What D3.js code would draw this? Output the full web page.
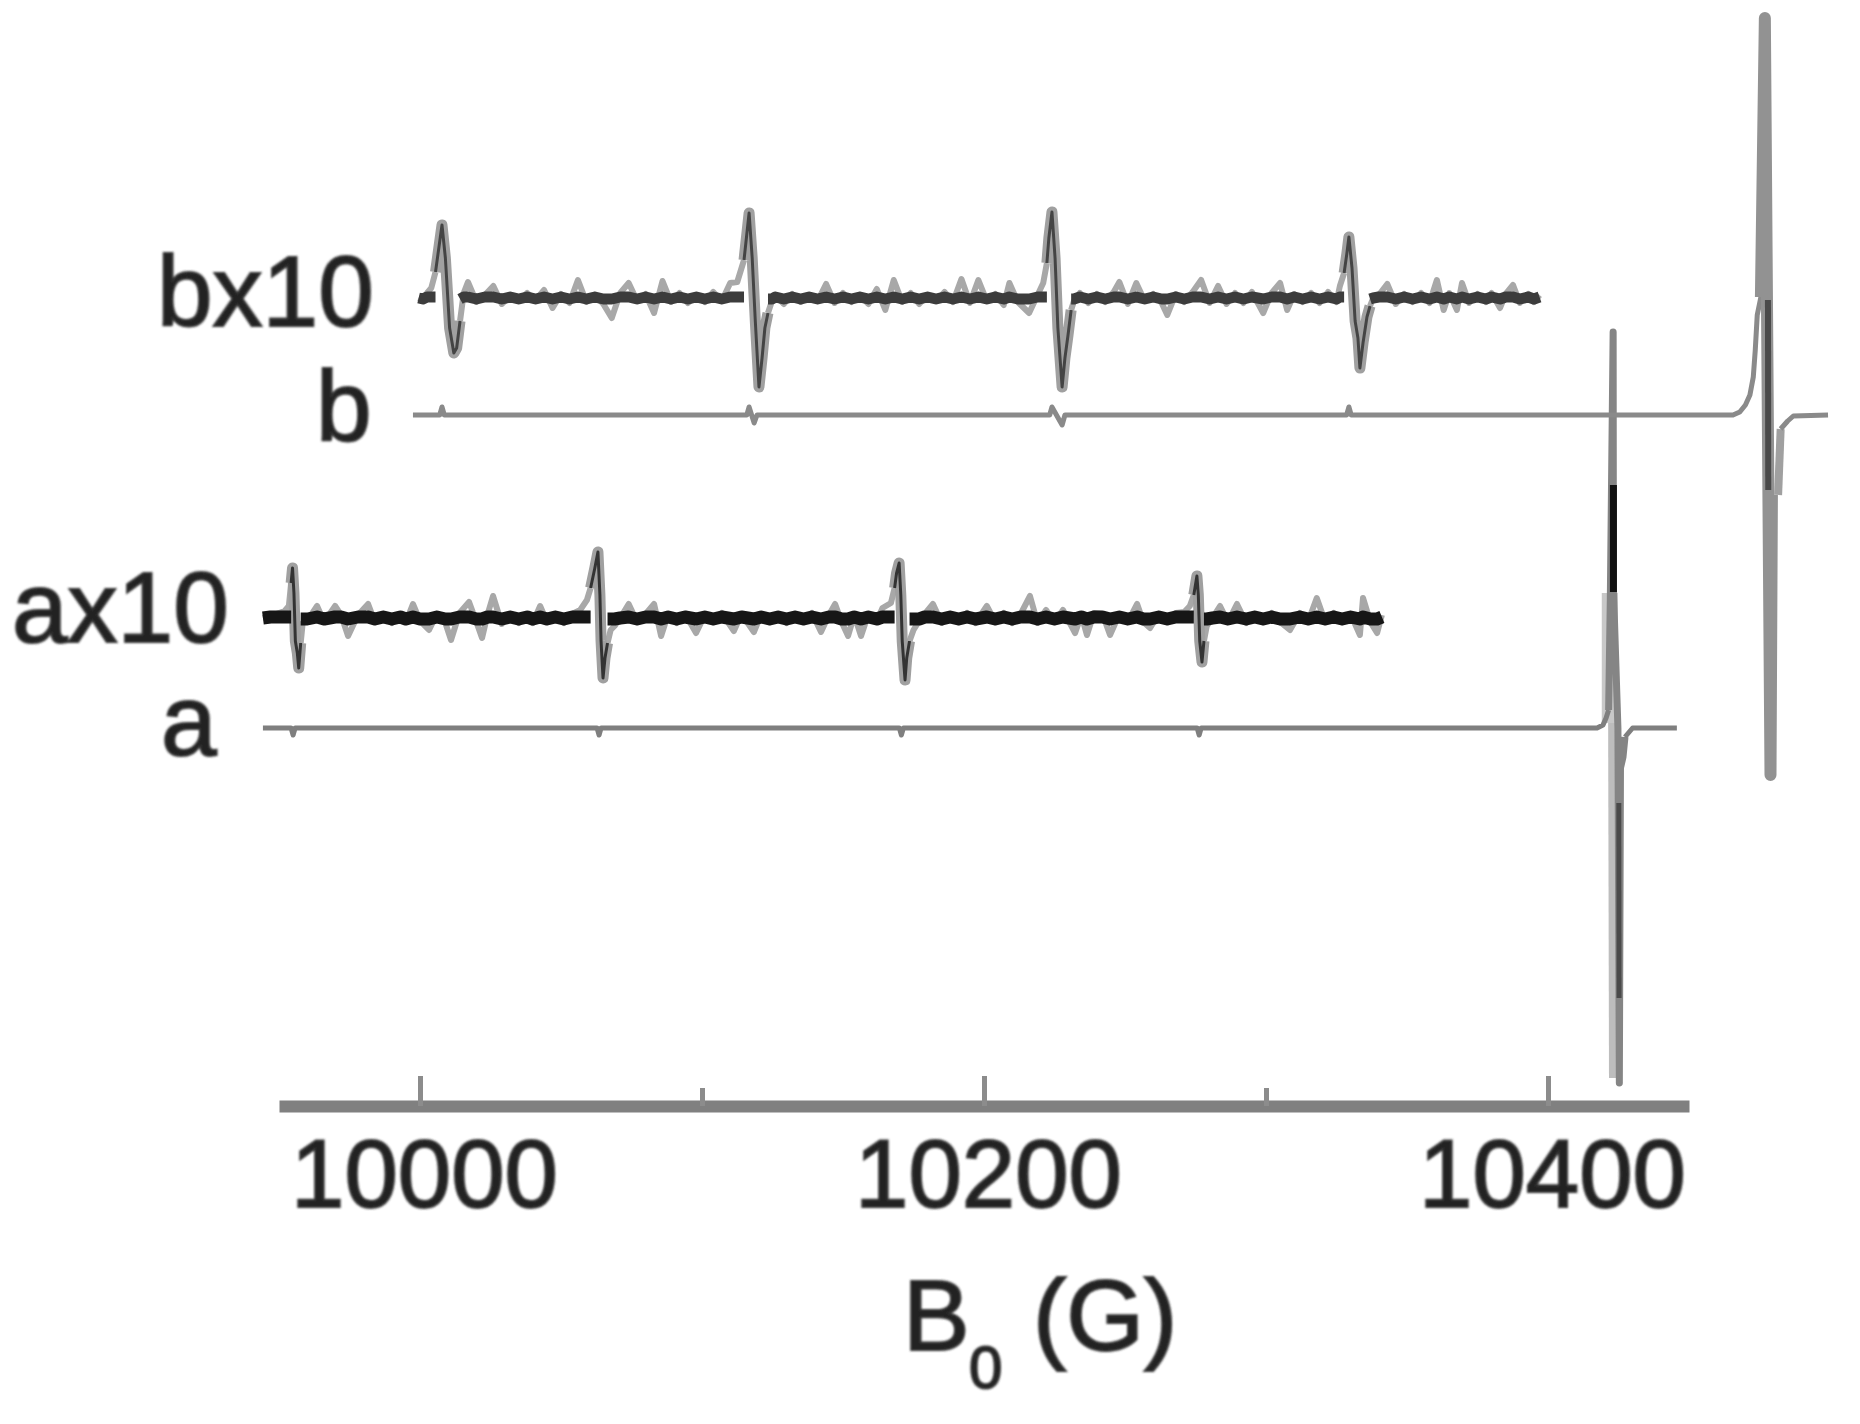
<!DOCTYPE html>
<html>
<head>
<meta charset="utf-8">
<title>B0 sweep</title>
<script src="https://cdnjs.cloudflare.com/ajax/libs/d3/7.8.5/d3.min.js"></script>
<style>
  body { margin: 0; background: #fff; }
  text { font-family: "Liberation Sans", Arial, sans-serif; }
</style>
</head>
<body>
<div class="svg-container"></div>
<script>
//values below: [field in G, intensity relative to the trace baseline]
var majorTicks = [10000, 10200, 10400];
var minorTicks = [10100, 10300];
var axisTitle = ["B", "0", "(G)"];
var traceLabels = ["bx10", "b", "ax10", "a"];

var bx10Points = [
  [9999.5,0],[10001,-2],[10002.5,5],[10004,10],[10005.5,26],[10007.8,73],[10009,40],[10010.5,-30],[10012,-55],[10013,-50],[10014.2,-23],[10015.5,5],
  [10017,16],[10020,-4],[10023,3],[10026,12],[10029,-6],[10032,2],[10035,-3],[10038,5],[10041,-2],[10044,8],[10047,-10],[10050,4],[10053,-5],[10056,18],[10059,-4],[10062,3],[10065,-6],[10068,-20],[10071,5],[10074,15],[10077,-3],[10080,4],[10083,-15],[10086,17],[10089,-4],[10092,5],[10095,-5],[10098,2],[10101,-4],[10104,6],[10107,-3],[10110,15],
  [10112.5,16],[10114.9,38],[10116.7,85],[10117.8,40],[10118.9,-23],[10120.2,-89],[10121.3,-60],[10122.3,-30],[10123.4,-15],[10124.8,-3],
  [10126,3],[10129,-6],[10132,4],[10135,-4],[10138,2],[10141,-3],[10144,14],[10147,-5],[10150,5],[10153,-4],[10156,3],[10159,-6],[10162,9],[10165,-12],[10168,18],[10171,-4],[10174,5],[10177,-6],[10180,3],[10183,-3],[10186,6],[10189,-4],[10192,19],[10195,-5],[10198,18],[10201,-3],[10204,4],[10207,-7],[10209,15],[10212,-4],[10216,-15],[10219,3],
  [10221,15],[10222.3,35],[10223,60],[10224.1,86],[10225.2,40],[10226.2,-30],[10227.7,-89],[10228.7,-60],[10229.8,-37],[10230.9,-12],[10231.9,-3],
  [10234,5],[10237,-5],[10240,4],[10243,-4],[10246,6],[10248,16],[10251,-6],[10254,15],[10257,-3],[10260,4],[10263,-5],[10265,-17],[10268,4],[10271,-4],[10274,6],[10277,18],[10280,-5],[10283,12],[10286,-6],[10289,5],[10292,-5],[10295,6],[10299,-15],[10302,5],[10305,15],[10307.5,-12],[10310,4],[10313,-4],[10316,5],[10319,-5],[10322,6],[10325,-4],
  [10326.2,12],[10327.7,25],[10328.7,45],[10329.4,61],[10330.5,30],[10331.6,-23],[10332.6,-40],[10333.3,-70],[10334.4,-45],[10335.8,-19],[10336.9,-8],[10338,0],
  [10340,3],[10343,14],[10346,-6],[10349,4],[10352,-4],[10355,5],[10358,-5],[10360.6,18],[10363,-12],[10365,5],[10367.7,-12],[10369.5,15],[10372,-5],[10375,4],[10378,-4],[10380,5],[10383,-10],[10385,4],[10387.6,13],[10390,-5],[10393,4],[10395,-4],[10397,3]
];
var bx10LineWindows = [[10005.5,10014.2], [10114.9,10123.4], [10222.3,10230.9], [10327.7,10336.9]];

var ax10Points = [
  [9944.3,0],[9947,2],[9950,5],[9952,7],[9953.5,12],[9954.3,35],[9954.8,50],[9955.3,25],[9955.8,-23],[9956.5,-35],[9957,-50],[9957.7,-25],[9958.4,-5],
  [9960,-3],[9963.5,12],[9966,-4],[9969.9,12],[9972,3],[9974.5,-18],[9978,3],[9981.6,14],[9984,-4],[9987,4],[9990,-5],[9993,3],[9995,-4],[9997.5,14],[10000,-3],[10003.2,-12],[10006,4],[10009,-5],[10011,-22],[10014,5],[10017.4,16],[10020,-4],[10022,-20],[10024,4],[10025.9,22],[10029,-6],[10032,4],[10035,-5],[10038,3],[10040,-5],[10042.6,12],[10045,-4],[10048,4],[10051,-5],[10054,4],
  [10056.8,8],[10059.2,18],[10060.5,30],[10062,50],[10063.1,66],[10063.8,23],[10064.2,-23],[10064.9,-60],[10065.6,-40],[10066.5,-25],[10067.6,-12],[10069,-8],[10071,0],
  [10074,14],[10077,-4],[10080,4],[10083,14],[10085.5,-18],[10088,4],[10091,-5],[10094,4],[10097.9,-15],[10101,3],[10104,-4],[10107,5],[10111.3,-13],[10114,4],[10118.4,-14],[10121,4],[10124,-4],[10127,3],[10130,-5],[10133,4],[10136,-3],[10139,5],[10142.2,-14],[10145,3],[10147.2,14],[10149.5,-4],[10151.8,-18],[10154,3],[10156.4,-18],[10159,4],[10162,-3],
  [10164,10],[10167,15],[10168.3,30],[10169,45],[10169.9,55],[10170.5,23],[10171,-23],[10172,-62],[10172.6,-40],[10173.6,-23],[10175,-12],[10177,-3],
  [10179,4],[10181.9,14],[10185,-5],[10188,4],[10191,-4],[10194,5],[10197,-5],[10201,12],[10204,-4],[10207,5],[10210,-5],[10213,4],[10216.3,22],[10219,-5],[10222,8],[10225,-4],[10228,8],[10232.3,-15],[10234.5,3],[10236.5,-17],[10239,5],[10242,4],[10244.7,-17],[10248,4],[10251,-4],[10254.3,14],[10256.5,-4],[10258.9,-10],[10262,4],[10265,-3],[10268,5],
  [10271,6],[10273,12],[10274.4,23],[10275.5,42],[10276,23],[10276.5,-23],[10277.3,-44],[10278,-23],[10279,-8],[10281,0],
  [10283.7,12],[10286.5,-4],[10289.7,14],[10293,-5],[10296,4],[10299,-4],[10302,5],[10305,-4],[10308.5,-12],[10312,5],[10315,-3],[10318,20],[10321,-4],[10324,5],[10327,-4],[10330,4],[10333.3,-17],[10334.4,20],[10337,-4],[10339.4,-15],[10341.1,3]
];
var ax10LineWindows = [[9954.3,9957.7], [10060.5,10066.5], [10168.3,10173.6], [10274.4,10278]];

var bPoints = [
  [9997.5,0],[10007,0],[10007.8,8],[10008.6,0],[10115.9,0],[10116.7,8],[10118.5,-8],[10119.5,0],
  [10223.3,0],[10224.1,8],[10227.7,-10],[10228.7,0],[10328.6,0],[10329.4,8],[10330.2,0],
  [10465.6,0],[10468,3],[10470,10],[10471.6,20],[10472.8,38],[10473.5,65],[10474.2,100],[10475.5,118]
];
var bPeakPoints = [[10475.5,118],[10476.9,397],[10478.9,-360],[10479.4,-80]];
var bReturnPoints = [[10481.6,-80],[10482.5,-14]];
var bTailPoints = [[10482.5,-14],[10485,-6],[10487,-1],[10499.3,0]];
var bCorePoints = [[10478,115],[10478.1,-75]];

var aPoints = [
  [9944.3,0],[9954.3,0],[9955,-7],[9955.7,0],[10062.8,0],[10063.5,-7],[10064.2,0],[10170,0],[10170.7,-7],[10171.4,0],
  [10275.6,0],[10276.3,-7],[10277,0],[10417.4,0],[10419.5,3],[10420.6,10],[10421.5,18]
];
var aPeakPoints = [[10421.5,18],[10422.1,130],[10423.1,396],[10423.2,140],[10424.8,0],[10425.3,-355],[10425.7,-40],[10426.6,-29],[10427.3,-9]];
var aTailPoints = [[10427.3,-9],[10430,0],[10445.7,0]];
var aShoulderPoints = [[10421.9,135],[10421.9,5]];
var aShadowPoints = [[10423.1,5],[10423.4,-350]];
var aCorePoints = [[10423.2,243],[10423.2,136]];
var aLowerCorePoints = [[10425.1,-75],[10425.2,-270]];

var traceBaselines = { bx10: 1126, b: 1009, ax10: 806, a: 696 };

//half height of the solid band the noise averages into
var bandHalf = 1;

var width = 1860;
var height = 1424;

var xScale = d3.scaleLinear().domain([10000, 10400]).range([420, 1548]);
var yScale = d3.scaleLinear().domain([0, height]).range([height, 0]);

var svg = d3.select(".svg-container")
  .append("svg")
    .attr("width", width)
    .attr("height", height)
    .attr("viewBox", "0 0 " + width + " " + height);

//soft edge for the lettering
var softEdge = svg.append("defs").append("filter").attr("id", "soft-edge");
softEdge.append("feGaussianBlur").attr("stdDeviation", 1.1);

var drawTrace = function(points, baseline, color, strokeWidth) {
  var line = d3.line()
    .x(function(d) { return xScale(d[0]); })
    .y(function(d) { return yScale(baseline + d[1]); });

  svg.append("path")
    .datum(points)
    .attr("fill", "none")
    .attr("stroke", color)
    .attr("stroke-width", strokeWidth)
    .attr("stroke-linejoin", "round")
    .attr("d", line);
};

var drawPart = function(points, baseline, isInPart, color, strokeWidth, flatten) {
  var line = d3.line()
    .defined(isInPart)
    .x(function(d) { return xScale(d[0]); })
    .y(function(d) {
      var value = flatten ? Math.max(-bandHalf, Math.min(bandHalf, d[1])) : d[1];
      return yScale(baseline + value);
    });

  svg.append("path")
    .datum(points)
    .attr("fill", "none")
    .attr("stroke", color)
    .attr("stroke-width", strokeWidth)
    .attr("stroke-linejoin", "round")
    .attr("d", line);
};

//x10 traces: grey fuzz for the noise, solid band over it, wide grey and dark core on the lines
var drawNoisyTrace = function(points, windows, baseline, bandColor, bandWidth, coreColor) {
  var isLine = function(d) {
    return windows.some(function(w) { return d[0] >= w[0] && d[0] <= w[1]; });
  };
  //a window's edge points belong to both parts, so the pieces join up
  var isNoise = function(d) {
    return !windows.some(function(w) { return d[0] > w[0] && d[0] < w[1]; });
  };

  drawPart(points, baseline, isNoise, "#a8a8a8", 6, false);
  drawPart(points, baseline, isLine, "#a0a0a0", 11, false);
  drawPart(points, baseline, isNoise, bandColor, bandWidth, true);
  drawPart(points, baseline, isLine, coreColor, 3, false);
};

drawNoisyTrace(bx10Points, bx10LineWindows, traceBaselines.bx10, "#3c3c3c", 11, "#444");
drawNoisyTrace(ax10Points, ax10LineWindows, traceBaselines.ax10, "#161616", 13, "#333");

//full scale traces
drawTrace(aShoulderPoints, traceBaselines.a, "#c8c8c8", 16);
drawTrace(aShadowPoints, traceBaselines.a, "#bdbdbd", 10);
drawTrace(aPoints, traceBaselines.a, "#7f7f7f", 5);
drawTrace(aPeakPoints, traceBaselines.a, "#858585", 7);
drawTrace(aTailPoints, traceBaselines.a, "#7f7f7f", 5);
drawTrace(aCorePoints, traceBaselines.a, "#111", 7);
drawTrace(aLowerCorePoints, traceBaselines.a, "#4a4a4a", 5);

drawTrace(bPoints, traceBaselines.b, "#8a8a8a", 5);
drawTrace(bPeakPoints, traceBaselines.b, "#929292", 12);
drawTrace(bReturnPoints, traceBaselines.b, "#a0a0a0", 8);
drawTrace(bTailPoints, traceBaselines.b, "#8a8a8a", 5);
drawTrace(bCorePoints, traceBaselines.b, "#4a4a4a", 6);

//bottom axis with ticks pointing up, labels below
var axisY = 1106;
var axisRange = d3.scaleLinear().domain([9950, 10450]).range([xScale(9950), xScale(10450)]);

var majorAxis = d3.axisBottom(axisRange)
  .tickValues(majorTicks)
  .tickFormat(d3.format("d"))
  .tickSizeInner(-30)
  .tickSizeOuter(0)
  .tickPadding(33);

var axisGroup = svg.append("g")
  .attr("transform", "translate(0," + axisY + ")")
  .call(majorAxis);

axisGroup.select(".domain").attr("stroke", "#808080").attr("stroke-width", 12);
axisGroup.selectAll("line").attr("stroke", "#8c8c8c").attr("stroke-width", 5);
axisGroup.selectAll("text")
  .attr("font-size", 96)
  .attr("font-family", "Liberation Sans")
  .attr("dx", 4)
  .attr("fill", "#222")
  .attr("stroke", "#333")
  .attr("stroke-width", 2)
  .attr("filter", "url(#soft-edge)");

var minorAxis = d3.axisBottom(axisRange)
  .tickValues(minorTicks)
  .tickFormat("")
  .tickSizeInner(-18)
  .tickSizeOuter(0);

var minorGroup = svg.append("g")
  .attr("transform", "translate(0," + axisY + ")")
  .call(minorAxis);

minorGroup.select(".domain").remove();
minorGroup.selectAll("line").attr("stroke", "#8c8c8c").attr("stroke-width", 5);

//labels on the left
var labelPlaces = [[157, 326], [316, 441], [12, 642], [161, 755]];

svg.append("g")
  .selectAll("text")
  .data(traceLabels)
  .enter()
  .append("text")
    .attr("x", function(d, i) { return labelPlaces[i][0]; })
    .attr("y", function(d, i) { return labelPlaces[i][1]; })
    .attr("font-size", 100)
    .attr("fill", "#222")
    .attr("stroke", "#333")
    .attr("stroke-width", 2)
    .attr("filter", "url(#soft-edge)")
    .text(function(d) { return d; });

//axis title, with the subscript
var title = svg.append("text")
  .attr("fill", "#222")
  .attr("stroke", "#333")
  .attr("stroke-width", 2)
  .attr("filter", "url(#soft-edge)");

title.append("tspan").attr("x", 903).attr("y", 1350).attr("font-size", 100).text(axisTitle[0]);
title.append("tspan").attr("x", 969).attr("y", 1388).attr("font-size", 60).text(axisTitle[1]);
title.append("tspan").attr("x", 1033).attr("y", 1350).attr("font-size", 100).text(axisTitle[2]);
</script>
</body>
</html>
